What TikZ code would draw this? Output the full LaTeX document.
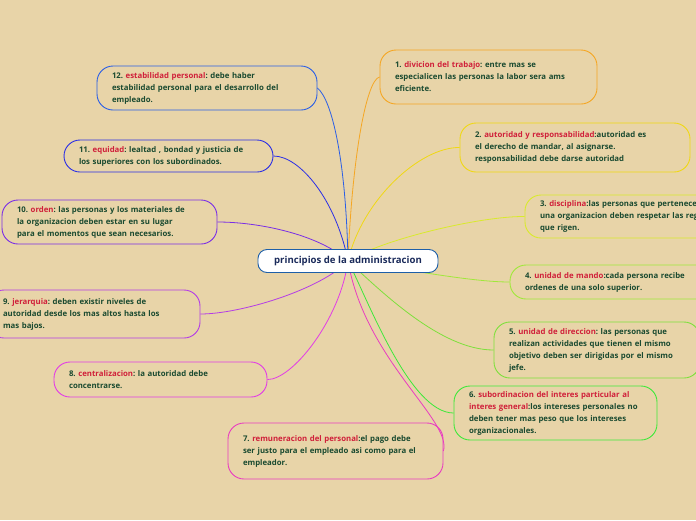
\documentclass[tikz,border=0pt]{standalone}
\usepackage{fontspec}
\setmainfont{Open Sans}
\usepackage{xcolor}
\frenchspacing

\definecolor{fondo}{HTML}{E8D4A8}
\definecolor{texto}{HTML}{1A4A30}
\definecolor{clave}{HTML}{D0203A}
\definecolor{titulo}{HTML}{1A2A5A}
\definecolor{cNaranja}{HTML}{F5A623}
\definecolor{cAmarillo}{HTML}{F0D814}
\definecolor{cLima}{HTML}{D9EA2C}
\definecolor{cVerdeA}{HTML}{A0E83A}
\definecolor{cVerdeB}{HTML}{7EE03C}
\definecolor{cVerdeC}{HTML}{3EE83A}
\definecolor{cRosa}{HTML}{E83CC0}
\definecolor{cMagenta}{HTML}{E23CE6}
\definecolor{cMorado}{HTML}{B43CE6}
\definecolor{cVioleta}{HTML}{7A2EE6}
\definecolor{cAzulA}{HTML}{2A2EE6}
\definecolor{cAzulB}{HTML}{2A5EE6}
\definecolor{cCentro}{HTML}{1E5FA8}

\newcommand{\clave}[1]{\textcolor{clave}{#1}}

\begin{document}
\begin{tikzpicture}[x=1pt, y=-1pt,
  every node/.style={font=\fontsize{7.8}{12}\selectfont\bfseries, text=texto},
  principio/.style={draw, line width=0.9pt, rounded corners=16pt, align=left,
    inner xsep=15pt, inner ysep=0pt, anchor=center},
  rama/.style={line width=0.8pt}]
  % Fondo
  \useasboundingbox (0,0) rectangle (696,520);
  \fill[fondo] (0,0) rectangle (696,520);
  \clip (0,0) rectangle (696,520);
  % Nodo central (el punto de partida de las ramas)
  \coordinate (hub) at (348,261);
  % Principios a la derecha
  \node[principio, draw=cNaranja, text width=187pt, minimum height=54pt] (b1) at (488.5,77)
    {1. \clave{divicion del trabajo}: entre mas se\\especialicen las personas la labor sera ams\\eficiente.};
  \node[principio, draw=cAmarillo, text width=200pt, minimum height=49pt] (b2) at (575,147.5)
    {2. \clave{autoridad y responsabilidad}:autoridad es\\el derecho de mandar, al asignarse.\\responsabilidad debe darse autoridad};
  \node[principio, draw=cLima, text width=210pt, minimum height=43pt] (b3) at (645,216.5)
    {3. \clave{disciplina}:las personas que pertenecen a\\una organizacion deben respetar las reglas\\que rigen.};
  \node[principio, draw=cVerdeA, text width=174pt, minimum height=34pt] (b4) at (612,282)
    {4. \clave{unidad de mando}:cada persona recibe\\ordenes de una solo superior.};
  \node[principio, draw=cVerdeB, text width=176pt, minimum height=56pt] (b5) at (597,350)
    {5. \clave{unidad de direccion}: las personas que\\realizan actividades que tienen el mismo\\objetivo deben ser dirigidas por el mismo\\jefe.};
  \node[principio, draw=cVerdeC, text width=173pt, minimum height=54pt] (b6) at (555.5,413)
    {6. \clave{subordinacion del interes particular al}\\\clave{interes general}:los intereses personales no\\deben tener mas peso que los intereses\\organizacionales.};
  % Principios a la izquierda
  \node[principio, draw=cRosa, text width=185pt, minimum height=56pt] (b7) at (335.5,451)
    {7. \clave{remuneracion del personal}:el pago debe\\ser justo para el empleado asi como para el\\empleador.};
  \node[principio, draw=cMagenta, text width=183pt, minimum height=35pt] (b8) at (160.5,379.5)
    {8. \clave{centralizacion}: la autoridad debe\\concentrarse.};
  \node[principio, draw=cMorado, text width=182pt, minimum height=48pt] (b9) at (94,314)
    {9. \clave{jerarquia}: deben existir niveles de\\autoridad desde los mas altos hasta los\\mas bajos.};
  \node[principio, draw=cVioleta, text width=185pt, minimum height=44pt] (b10) at (109.5,222)
    {10. \clave{orden}: las personas y los materiales de\\la organizacion deben estar en su lugar\\para el momentos que sean necesarios.};
  \node[principio, draw=cAzulA, text width=179pt, minimum height=32pt] (b11) at (168.5,156)
    {11. \clave{equidad}: lealtad , bondad y justicia de\\los superiores con los subordinados.};
  \node[principio, draw=cAzulB, text width=190pt, minimum height=44pt] (b12) at (207,88)
    {12. \clave{estabilidad personal}: debe haber\\estabilidad personal para el desarrollo del\\empleado.};
  % Ramas
  \draw[rama, cNaranja] (hub) .. controls (352,160) and (366,80) .. (b1.west);
  \draw[rama, cAmarillo] (hub) .. controls (362,200) and (420,147) .. (b2.west);
  \draw[rama, cLima] (hub) .. controls (380,240) and (480,216) .. (b3.west);
  \draw[rama, cVerdeA] (hub) .. controls (400,268) and (470,282) .. (b4.west);
  \draw[rama, cVerdeB] (hub) .. controls (380,290) and (440,350) .. (b5.west);
  \draw[rama, cVerdeC] (hub) .. controls (368,300) and (410,413) .. (b6.west);
  \draw[rama, cRosa] (hub) .. controls (365,360) and (452,420) .. (b7.east);
  \draw[rama, cMagenta] (hub) .. controls (340,320) and (292,380) .. (b8.east);
  \draw[rama, cMorado] (hub) .. controls (320,290) and (240,314) .. (b9.east);
  \draw[rama, cVioleta] (hub) .. controls (320,235) and (260,222) .. (b10.east);
  \draw[rama, cAzulA] (hub) .. controls (336,200) and (300,156) .. (b11.east);
  \draw[rama, cAzulB] (hub) .. controls (346,160) and (332,100) .. (b12.east);
  % Tema central
  \node[draw=cCentro, fill=white, line width=0.9pt, rounded corners=9pt,
    minimum width=180pt, minimum height=23pt, text=titulo,
    font=\fontsize{9.6}{11}\selectfont\bfseries] (principios) at (hub)
    {principios de la administracion};
\end{tikzpicture}
\end{document}
